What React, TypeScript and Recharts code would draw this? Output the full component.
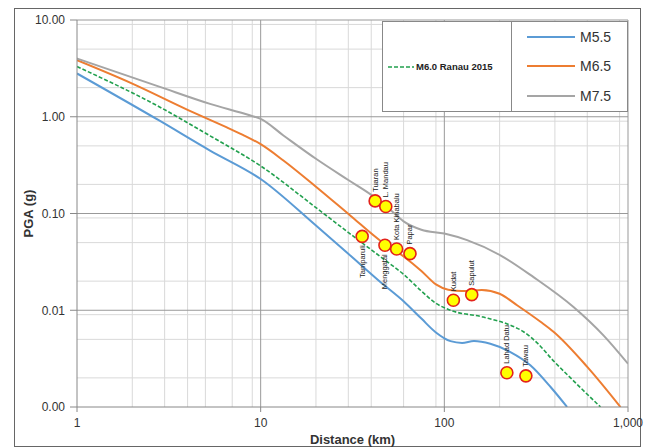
import React from "react";
import {
  ComposedChart, Line, Scatter, XAxis, YAxis, CartesianGrid, Legend,
} from "recharts";

// attenuation curves: distance (km) / PGA (g)
const M55_DIST = [1, 2.8, 5.3, 10, 20, 30, 45, 60, 75, 90, 108, 125, 145, 178, 229, 294, 380, 466];
const M55_PGA = [2.8, 0.915, 0.447, 0.227, 0.075, 0.0384, 0.0195, 0.0124, 0.0082, 0.0059, 0.0048, 0.0046, 0.0048, 0.0045, 0.0037, 0.0027, 0.0016, 0.001];

const M60_DIST = [1, 2.8, 5.3, 10, 20, 30.7, 46.5, 60, 75, 90, 108, 163, 229, 270, 320, 393, 500, 708];
const M60_PGA = [3.3, 1.27, 0.635, 0.31, 0.115, 0.0616, 0.034, 0.0235, 0.0158, 0.0118, 0.01, 0.0085, 0.007, 0.006, 0.0046, 0.003, 0.0019, 0.001];

const M65_DIST = [1, 2, 4, 6.5, 8, 10, 13.3, 20, 30.7, 45, 60, 75, 90, 105, 125, 160, 200, 250, 334, 393, 600, 910];
const M65_PGA = [3.84, 2.2, 1.18, 0.78, 0.65, 0.52, 0.353, 0.189, 0.0955, 0.052, 0.036, 0.0255, 0.0185, 0.0163, 0.0158, 0.0162, 0.0148, 0.0112, 0.0076, 0.006, 0.0026, 0.001];

const M75_DIST = [1, 2.8, 5.3, 8.8, 10, 13.3, 20, 30, 40, 50, 60, 75, 100, 133, 202, 306, 505, 735, 1000];
const M75_PGA = [4.0, 2.05, 1.36, 1.03, 0.95, 0.641, 0.368, 0.222, 0.156, 0.112, 0.083, 0.068, 0.062, 0.053, 0.037, 0.022, 0.0108, 0.0055, 0.0028];

// recorded stations
const STATION_NAMES = ["Tuaran", "L. Mandau", "Kota Kinabalu", "Papar", "Tamparuli", "Menggatal", "Kudat", "Sapulut", "Lahad Datu", "Tawau"];
const STATION_DIST = [42, 48, 55, 65, 35.7, 47.5, 112, 141, 219, 278];
const STATION_PGA = [0.135, 0.118, 0.043, 0.0385, 0.058, 0.047, 0.0127, 0.0145, 0.00226, 0.0021];
const LABEL_BELOW = ["Tamparuli", "Menggatal"];

const X_TICKS = [1, 10, 100, 1000];
const Y_TICKS = [0.001, 0.01, 0.1, 1, 10];
const MINOR_X = [2, 3, 4, 5, 6, 7, 8, 9, 20, 30, 40, 50, 60, 70, 80, 90, 200, 300, 400, 500, 600, 700, 800, 900];
const MINOR_Y = [0.002, 0.003, 0.004, 0.005, 0.006, 0.007, 0.008, 0.009, 0.02, 0.03, 0.04, 0.05, 0.06, 0.07, 0.08, 0.09,
  0.2, 0.3, 0.4, 0.5, 0.6, 0.7, 0.8, 0.9, 2, 3, 4, 5, 6, 7, 8, 9];

const BLUE = "#5b9bd5";
const ORANGE = "#ed7d31";
const GRAY = "#a5a5a5";
const GREEN = "#22a04e";
const FONT = "'Liberation Sans', Arial, sans-serif";

const toPoints = (xs: number[], ys: number[]) => xs.map((x, i) => ({ x, y: ys[i] }));

const stations = STATION_NAMES.map((name, i) => ({ name, x: STATION_DIST[i], y: STATION_PGA[i] }));

const StationMarker = (props: any) => {
  const { cx, cy, payload } = props;
  const below = LABEL_BELOW.includes(payload.name);
  const tx = cx + 2.5;
  const ty = below ? cy + 9 : cy - 9;
  return (
    <g>
      <circle cx={cx} cy={cy} r={6} fill="#ffff00" stroke="#e3221b" strokeWidth={1.6} />
      <text
        x={tx} y={ty}
        transform={`rotate(-90 ${tx} ${ty})`}
        textAnchor={below ? "end" : "start"}
        fontSize={7.5} fill="#222" fontFamily={FONT}
      >
        {payload.name}
      </text>
    </g>
  );
};

const renderLegend = () => (
  <div style={{
    display: "flex", width: 246, height: 91, background: "#fff",
    border: "1px solid #888", boxSizing: "border-box", fontFamily: FONT,
  }}>
    <div style={{ width: 129, borderRight: "1px solid #888", display: "flex", alignItems: "center", paddingLeft: 5, boxSizing: "border-box" }}>
      <svg width={26} height={6}>
        <line x1={0} y1={3} x2={26} y2={3} stroke={GREEN} strokeWidth={1.6} strokeDasharray="4 2" />
      </svg>
      <span style={{ fontSize: 9.5, fontWeight: 700, color: "#222", marginLeft: 2 }}>M6.0 Ranau 2015</span>
    </div>
    <div style={{ flex: 1, display: "flex", flexDirection: "column", justifyContent: "space-around", paddingLeft: 15 }}>
      {[["M5.5", BLUE], ["M6.5", ORANGE], ["M7.5", GRAY]].map(([name, color]) => (
        <div key={name} style={{ display: "flex", alignItems: "center" }}>
          <svg width={48} height={4}>
            <line x1={0} y1={2} x2={48} y2={2} stroke={color} strokeWidth={2} />
          </svg>
          <span style={{ fontSize: 14, color: "#333", marginLeft: 5 }}>{name}</span>
        </div>
      ))}
    </div>
  </div>
);

export default function App() {
  return (
    <div style={{ position: "absolute", left: 0, top: 0, width: 649, height: 448, background: "#fff" }}>
      <div style={{
        position: "absolute", left: 14, top: 8, width: 627, height: 439,
        border: "1px solid #666", boxSizing: "border-box",
      }} />
      <ComposedChart
        width={649} height={448}
        margin={{ top: 20, right: 21, bottom: 0, left: 14 }}
        style={{ fontFamily: FONT }}
      >
        <CartesianGrid stroke="#d9d9d9" verticalValues={MINOR_X} horizontalValues={MINOR_Y} />
        <CartesianGrid stroke="#999" verticalValues={[10, 100, 1000]} horizontalValues={[0.01, 0.1, 1, 10]} />
        <XAxis
          type="number" dataKey="x" scale="log" domain={[1, 1000]} allowDataOverflow
          ticks={X_TICKS} tickFormatter={(v) => v.toLocaleString("en-US")}
          height={41} tickSize={5} tickMargin={6}
          stroke="#888" tick={{ fill: "#333", fontSize: 12 }}
          label={{ value: "Distance (km)", position: "insideBottom", offset: 4, style: { fill: "#333", fontSize: 13, fontWeight: 700 } }}
        />
        <YAxis
          type="number" dataKey="y" scale="log" domain={[0.001, 10]} allowDataOverflow
          ticks={Y_TICKS} tickFormatter={(v) => v.toFixed(2)}
          width={63} tickSize={7} tickMargin={5}
          stroke="#888" tick={{ fill: "#333", fontSize: 12 }}
          label={{
            content: (p: any) => {
              const vb = p.viewBox;
              const lx = vb.x + 14;
              const ly = vb.y + vb.height / 2;
              return (
                <text x={lx} y={ly} transform={`rotate(-90 ${lx} ${ly})`} textAnchor="middle" dominantBaseline="central"
                  fill="#333" fontSize={13} fontWeight={700} fontFamily={FONT}>
                  PGA (g)
                </text>
              );
            },
          }}
        />
        <Legend
          content={renderLegend} layout="horizontal" align="center" verticalAlign="middle"
          wrapperStyle={{ position: "absolute", left: 382, top: 21, width: 246, height: 91 }}
        />
        <Line data={toPoints(M55_DIST, M55_PGA)} dataKey="y" name="M5.5" type="monotone" stroke={BLUE} strokeWidth={2} dot={false} isAnimationActive={false} />
        <Line data={toPoints(M65_DIST, M65_PGA)} dataKey="y" name="M6.5" type="monotone" stroke={ORANGE} strokeWidth={2} dot={false} isAnimationActive={false} />
        <Line data={toPoints(M75_DIST, M75_PGA)} dataKey="y" name="M7.5" type="monotone" stroke={GRAY} strokeWidth={2} dot={false} isAnimationActive={false} />
        <Line data={toPoints(M60_DIST, M60_PGA)} dataKey="y" name="M6.0 Ranau 2015" type="monotone" stroke={GREEN} strokeWidth={1.6} strokeDasharray="4 2" dot={false} isAnimationActive={false} />
        <Scatter data={stations} dataKey="y" shape={StationMarker} isAnimationActive={false} legendType="none" />
      </ComposedChart>
    </div>
  );
}
